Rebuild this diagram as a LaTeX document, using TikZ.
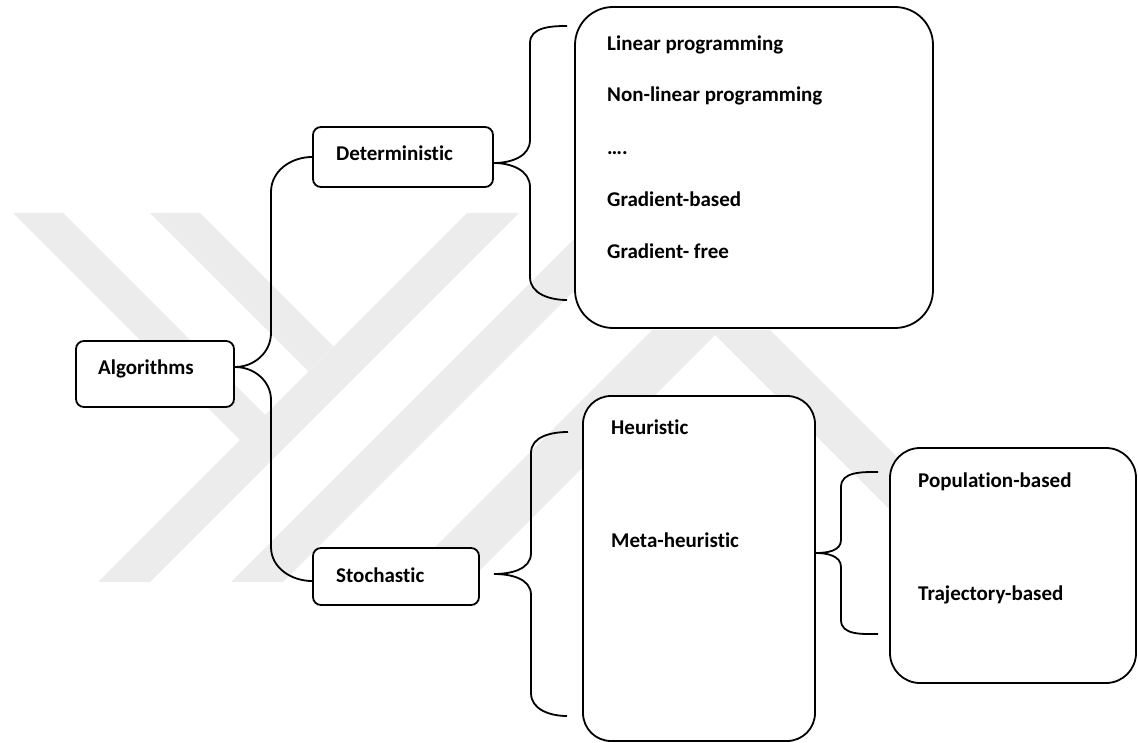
\documentclass[tikz,border=0pt]{standalone}
\usepackage{fontspec}
\setmainfont{Carlito}[Ligatures=CommonOff]
\usetikzlibrary{calc}
\definecolor{wmgray}{RGB}{236,236,236}
\tikzset{
  box/.style={draw=black, line width=1.8pt, fill=white, inner sep=0pt, rounded corners=#1},
  box/.default=8pt,
  lbl/.style={anchor=base west, inner sep=0pt, font=\fontsize{21}{25}\selectfont\bfseries},
  brace/.style={draw=black, line width=1.8pt},
  mark stripe/.style={fill=wmgray, draw=none},
}
\begin{document}
\begin{tikzpicture}[x=1pt,y=-1pt]
\useasboundingbox (0,0) rectangle (1138,743);

% faint background emblem
\fill[mark stripe] (13,213) -- (63,213) -- (291,441) -- (240,440) -- cycle;
\fill[mark stripe] (467,213) -- (519,213) -- (150,582) -- (98,582) -- cycle;
\fill[mark stripe] (150,213) -- (200,213) -- (333.5,346.5) -- (308.5,371.5) -- cycle;
\fill[mark stripe] (600,213) -- (652,213) -- (283,582) -- (231,582) -- cycle;
\fill[mark stripe] (400,582) -- (652,330) -- (770,330) -- (1022,582) -- (962,582)
                   -- (715,335) -- (468,582) -- cycle;

% boxes
\node[box, minimum width=158pt, minimum height=66pt] (alg) at (155,374) {};
\node[box, minimum width=180pt, minimum height=60pt] (det) at (403,157) {};
\node[box, minimum width=166pt, minimum height=57pt] (sto) at (396,576.5) {};
\node[box=38pt, minimum width=358pt, minimum height=321pt] (lp) at (754,167.5) {};
\node[box=28pt, minimum width=232pt, minimum height=345pt] (heu) at (699,568.5) {};
\node[box=30pt, minimum width=246pt, minimum height=235pt] (pop) at (1013,565.5) {};

% labels
\node[lbl] (talg) at (98,374) {Algorithms};
\node[lbl] (tdet) at (336,161) {Deterministic};
\node[lbl] (tsto) at (336,582) {Stochastic};
\node[lbl] (tlin) at (607,51) {Linear programming};
\node[lbl] (tnon) at (607,102) {Non-linear programming};
\node[lbl] (tdots) at (607,155) {….};
\node[lbl] (tgb) at (607,207) {Gradient-based};
\node[lbl] (tgf) at (607,259) {Gradient- free};
\node[lbl] (theu) at (611,434) {Heuristic};
\node[lbl] (tmeta) at (611,547) {Meta-heuristic};
\node[lbl] (tpop) at (918,487) {Population-based};
\node[lbl] (ttra) at (918,600) {Trajectory-based};

% brace tips and free ends
\coordinate (algtip) at ($(alg.east)+(0,-7)$);
\coordinate (stoin) at ($(sto.west)+(0,4.5)$);
\coordinate (dettip) at ($(det.east)+(0,6)$);
\coordinate (detA) at (567,26);
\coordinate (detB) at (567,300);
\coordinate (stotip) at (494,574);
\coordinate (stoA) at (568,432);
\coordinate (stoB) at (567,716);
\coordinate (heutip) at ($(heu.east)+(0,-15.5)$);
\coordinate (heuA) at (878,472);
\coordinate (heuB) at (878,634);

% braces
\draw[brace] (algtip) to[out=0,in=-90] (271,333) -- (271,192) to[out=90,in=180] (det.west);
\draw[brace] (algtip) to[out=0,in=90] (271,400) -- (271,547) to[out=-90,in=180] (stoin);

\draw[brace] (dettip) to[out=0,in=-90] (530,140) -- (530,43) to[out=90,in=180] (detA);
\draw[brace] (dettip) to[out=0,in=90] (530,187) -- (530,277) to[out=-90,in=180] (detB);

\draw[brace] (stotip) to[out=0,in=-90] (531,553) -- (531,453) to[out=90,in=180] (stoA);
\draw[brace] (stotip) to[out=0,in=90] (531,595) -- (531,693) to[out=-90,in=180] (stoB);

\draw[brace] (heutip) to[out=0,in=-90] (841,540) -- (841,487) to[out=90,in=180] (heuA);
\draw[brace] (heutip) to[out=0,in=90] (841,567) -- (841,620) to[out=-90,in=180] (heuB);
\end{tikzpicture}
\end{document}
